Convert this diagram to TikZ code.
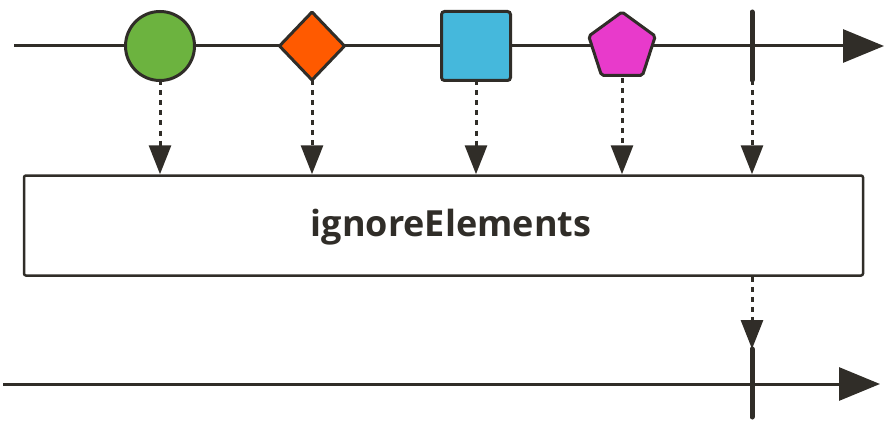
\documentclass[tikz,border=0pt]{standalone}
\usepackage{fontspec}
\setmainfont{Open Sans}
\usetikzlibrary{shapes.geometric,arrows.meta}
\definecolor{ink}{HTML}{302D28}
\definecolor{cgreen}{HTML}{6CB33F}
\definecolor{corange}{HTML}{FF5A00}
\definecolor{cblue}{HTML}{45B8DC}
\definecolor{cmag}{HTML}{E83ACB}
\begin{document}
\begin{tikzpicture}[x=1pt,y=-1pt,
  timeline/.style={draw=ink,line width=3pt,-{Triangle[length=41pt,width=33pt]}},
  item/.style={draw=ink,line width=3pt,inner sep=0pt,outer sep=0pt},
  flow/.style={draw=ink,line width=3pt,dash pattern=on 5pt off 5pt,-{Triangle[length=29pt,width=22pt]},shorten >=0pt},
  tick/.style={draw=ink,line width=5pt,line cap=round},
  opbox/.style={draw=ink,line width=2.5pt,rounded corners=2pt,fill=white}]
\useasboundingbox (0,0) rectangle (896,425);
% top timeline
\coordinate (t0) at (14,46);
\coordinate (t1) at (884,46);
\draw[timeline] (t0) -- (t1);
% items
\node[item,circle,minimum size=69pt,fill=cgreen] (c) at (160,46) {};
\node[item,diamond,minimum width=65pt,minimum height=68pt,fill=corange,rounded corners=1pt] (d) at (312,46) {};
\node[item,rectangle,minimum size=69pt,fill=cblue,rounded corners=3pt] (s) at (476,46) {};
\node[item,regular polygon,regular polygon sides=5,minimum size=70pt,fill=cmag,rounded corners=2pt] (p) at (622,47) {};
\coordinate (ct) at (752,12);
\coordinate (cb) at (752,80);
\draw[tick] (ct) -- (cb);
% operator box
\node[opbox,minimum width=839pt,minimum height=100pt] (box) at (443.5,225.5) {};
\node[text=ink,font=\fontsize{36}{40}\selectfont\bfseries] (lbl) at (451,227) {ignoreElements};
% arrows down
\draw[flow] (c.south) -- (c.south |- box.north);
\draw[flow] (d.south) -- (d.south |- box.north);
\draw[flow] (s.south) -- (s.south |- box.north);
\draw[flow] ([yshift=-3pt]p.south) -- (p.south |- box.north);
\draw[flow] (cb) -- (cb |- box.north);
% bottom
\coordinate (b0) at (3,384);
\coordinate (b1) at (880,384);
\draw[timeline] (b0) -- (b1);
\coordinate (bt) at (752,349);
\coordinate (bb) at (752,417);
\draw[tick] (bt) -- (bb);
\draw[flow] (cb |- box.south) -- (bt);
\end{tikzpicture}
\end{document}
